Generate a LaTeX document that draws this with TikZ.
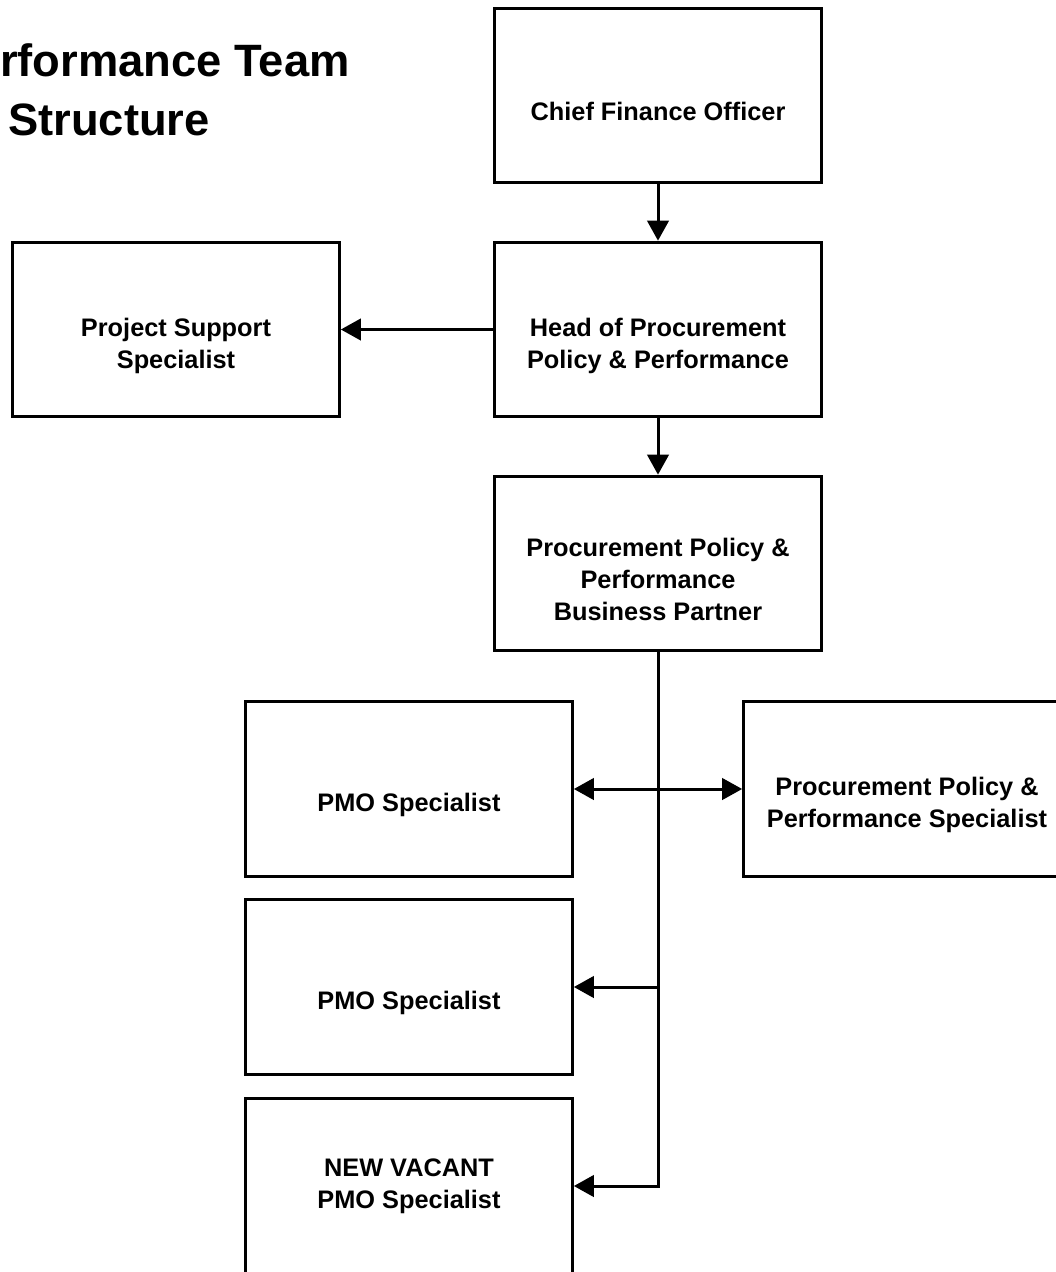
\documentclass[tikz,border=0pt]{standalone}
\usepackage{fontspec}
\setmainfont{Liberation Sans}
\usepackage{tikz}
\usetikzlibrary{arrows.meta}

\begin{document}
\begin{tikzpicture}[x=0.75pt,y=-0.75pt]
      \newcommand{\rolepad}{\rule{0pt}{38pt}}
      \tikzstyle{role} = [
        draw=black,
        rectangle,
        line width=2.25pt,
        minimum width=245pt,
        minimum height=131pt,
        inner sep=0pt,
        align=center,
        font=\bfseries\fontsize{19}{24}\selectfont,
      ]
      \tikzstyle{title} = [inner sep=0pt, font=\bfseries\fontsize{34}{40}\selectfont]
      \tikzstyle{dedge} = [-{Triangle[length=15pt,width=16pt]},line width=2.25pt,draw=black]
      \tikzstyle{bedge} = [{Triangle[length=15pt,width=16pt]}-{Triangle[length=15pt,width=16pt]},line width=2.25pt,draw=black]

      \useasboundingbox (0,0) rectangle (1056,1272);
      \clip (0,0) rectangle (1056,1272);

      \node[title, anchor=base west] (title1) at (0,76) {rformance Team};
      \node[title, anchor=base west] (title2) at (8,135) {Structure};

      \node[role] (cfo) at (658,95.5) {\rolepad Chief Finance Officer};
      \node[role] (head) at (658,329.5) {\rolepad Head of Procurement\\Policy \& Performance};
      \node[role] (support) at (176,329.5) {\rolepad Project Support\\Specialist};
      \node[role] (partner) at (658,563.5) {\rolepad Procurement Policy \&\\Performance\\Business Partner};
      \node[role] (pmo1) at (409,789) {\rolepad PMO Specialist};
      \node[role] (spec) at (907,789) {\rolepad Procurement Policy \&\\Performance Specialist};
      \node[role] (pmo2) at (409,987) {\rolepad PMO Specialist};
      \node[role] (pmo3) at (409,1186) {NEW VACANT\\PMO Specialist};

      \draw[dedge] (cfo)--(head);
      \draw[dedge] (head)--(support);
      \draw[dedge] (head)--(partner);
      \draw[bedge] (pmo1)--(spec);
      \draw[dedge] (partner.south) |- (pmo2.east);
      \draw[dedge] (partner.south) |- (pmo3.east);
    \end{tikzpicture}
\end{document}
